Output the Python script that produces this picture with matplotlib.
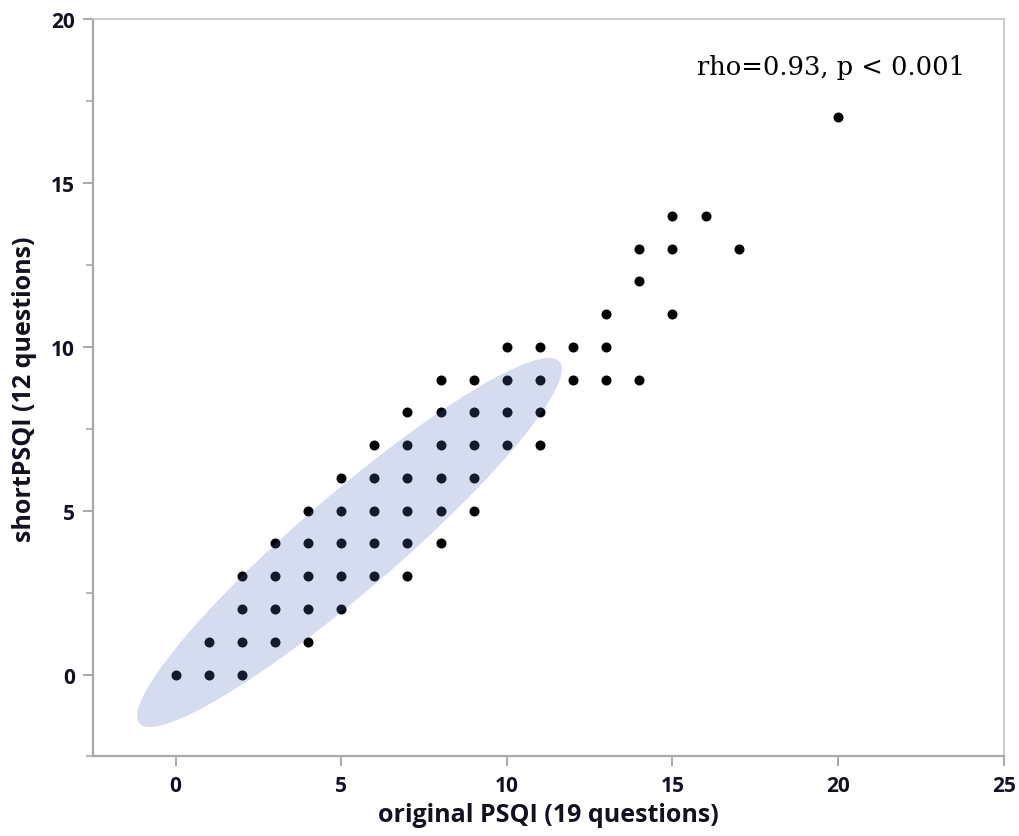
import numpy as np
import matplotlib
matplotlib.use('Agg')
import matplotlib.pyplot as plt
from matplotlib.patches import Ellipse
from matplotlib.ticker import MultipleLocator

# unique (original, short) score pairs
orig_psqi = [0,
             1, 1,
             2, 2, 2, 2,
             3, 3, 3, 3,
             4, 4, 4, 4, 4,
             5, 5, 5, 5, 5,
             6, 6, 6, 6, 6,
             7, 7, 7, 7, 7, 7,
             8, 8, 8, 8, 8, 8,
             9, 9, 9, 9, 9,
             10, 10, 10, 10,
             11, 11, 11, 11,
             12, 12,
             13, 13, 13,
             14, 14, 14,
             15, 15, 15,
             16, 17, 20]
short_psqi = [0,
              0, 1,
              0, 1, 2, 3,
              1, 2, 3, 4,
              1, 2, 3, 4, 5,
              2, 3, 4, 5, 6,
              3, 4, 5, 6, 7,
              3, 4, 5, 6, 7, 8,
              4, 5, 6, 7, 8, 9,
              5, 6, 7, 8, 9,
              7, 8, 9, 10,
              7, 8, 9, 10,
              9, 10,
              9, 10, 11,
              9, 12, 13,
              11, 13, 14,
              14, 13, 17]

# bivariate summary used for the 95% density ellipse
mean_xy = (5.25, 4.03)
sd_xy = (2.62, 2.30)
corr = 0.94
coverage = 0.95

annot = 'rho=0.93, p < 0.001'

fig = plt.figure(figsize=(10.2, 8.37), dpi=100)
ax = fig.add_axes([0.091, 0.095, 0.893, 0.881])

ax.scatter(orig_psqi, short_psqi, s=52, color='black', zorder=2, linewidths=0)

# density ellipse from covariance
cov = np.array([[sd_xy[0]**2, corr*sd_xy[0]*sd_xy[1]],
                [corr*sd_xy[0]*sd_xy[1], sd_xy[1]**2]])
vals, vecs = np.linalg.eigh(cov)
k = np.sqrt(-2*np.log(1 - coverage))
angle = np.degrees(np.arctan2(vecs[1, 1], vecs[0, 1]))
ell = Ellipse(mean_xy, 2*k*np.sqrt(vals[1]), 2*k*np.sqrt(vals[0]), angle=angle,
              facecolor='#526FBD', alpha=0.24, edgecolor='none', zorder=3)
ax.add_patch(ell)

ax.set_xlim(-2.5, 25)
ax.set_ylim(-2.5, 20)
ax.xaxis.set_major_locator(MultipleLocator(5))
ax.yaxis.set_major_locator(MultipleLocator(5))
ax.yaxis.set_minor_locator(MultipleLocator(2.5))

for side in ['left', 'bottom']:
    ax.spines[side].set_color('#A8A8A8')
    ax.spines[side].set_linewidth(1.6)
for side in ['top', 'right']:
    ax.spines[side].set_color('#C4C4C4')
    ax.spines[side].set_linewidth(1.2)

ax.tick_params(which='major', length=7, width=1.4, color='#A8A8A8',
               labelsize=15, labelcolor='#111122', pad=6)
ax.tick_params(which='minor', length=5, width=1.2, color='#A8A8A8')
ax.tick_params(axis='x', which='minor', length=0)
for lbl in ax.get_xticklabels() + ax.get_yticklabels():
    lbl.set_fontweight('bold')
    lbl.set_family('Open Sans')

ax.set_xlabel('original PSQI (19 questions)', fontsize=18, fontweight='bold',
              family='Open Sans', color='#111122', labelpad=5)
ax.set_ylabel('shortPSQI (12 questions)', fontsize=18, fontweight='bold',
              family='Open Sans', color='#111122', labelpad=10)

ax.text(0.958, 0.936, annot, transform=ax.transAxes, ha='right', va='center',
        fontsize=18.5, family='DejaVu Serif', color='black')

fig.savefig('out.png', dpi=100)
